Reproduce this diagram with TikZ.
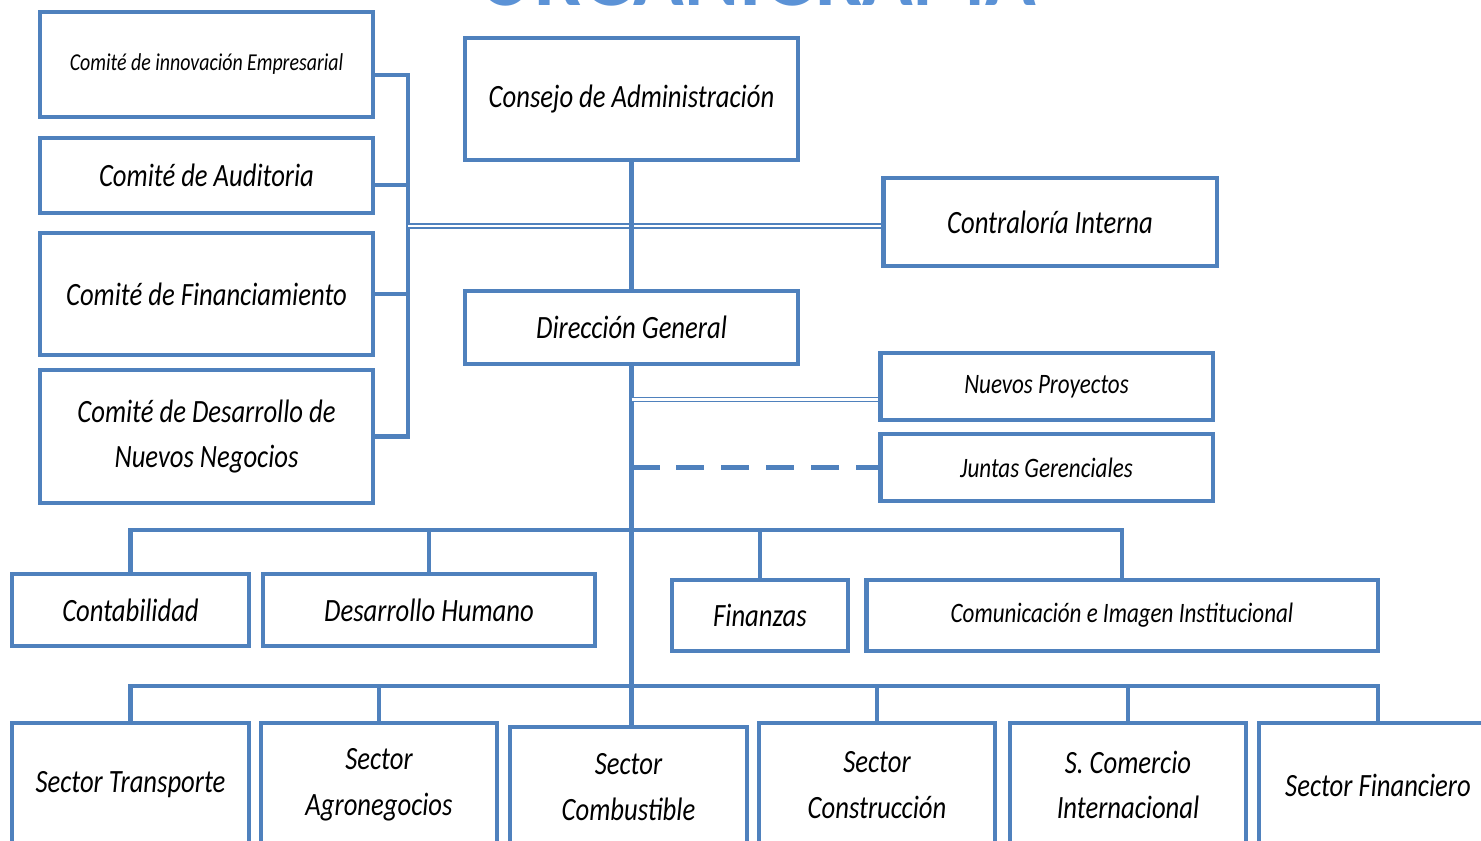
\documentclass[tikz,border=0pt]{standalone}
\usepackage{fontspec}
\setmainfont{Carlito}[FakeStretch=0.82]
\usepackage{tikz}
\definecolor{orgblue}{RGB}{79,129,189}
\definecolor{titleblue}{RGB}{91,146,214}
\tikzset{>=latex}

\begin{document}
\begin{tikzpicture}[x=0.02cm, y=-0.02cm,
  orgbox/.style={draw=orgblue, line width=2.8pt, fill=white, inner sep=0pt, align=center,
    font=\itshape\fontsize{18.5}{26}\selectfont},
  smalltext/.style={font=\itshape\fontsize{13.8}{16}\selectfont},
  midtext/.style={font=\itshape\fontsize{16}{18}\selectfont},
  link/.style={draw=orgblue, line width=2.3pt},
  dlink/.style={draw=orgblue, line width=1pt, double=white, double distance=1.2pt},
  titulo/.style={text=titleblue, font=\bfseries\fontsize{58}{58}\selectfont, inner sep=0pt}]
\useasboundingbox (0,0) rectangle (1481,841);
\clip (0,0) rectangle (1481,841);
\node[titulo, anchor=base] (tit) at (757,6) {ORGANIGRAMA};
% comites
\node[orgbox, smalltext, minimum width=6.66cm, minimum height=2.1cm] (cinn) at (206.5,64.5) {Comité de innovación Empresarial};
\node[orgbox, minimum width=6.66cm, minimum height=1.5cm] (caud) at (206.5,175.5) {Comité de Auditoria};
\node[orgbox, minimum width=6.66cm, minimum height=2.44cm] (cfin) at (206.5,294) {Comité de Financiamiento};
\node[orgbox, minimum width=6.66cm, minimum height=2.66cm] (cdes) at (206.5,436.5) {Comité de Desarrollo de\\Nuevos Negocios};
% direccion
\node[orgbox, minimum width=6.66cm, minimum height=2.44cm] (cons) at (631.5,99) {Consejo de Administración};
\node[orgbox, minimum width=6.68cm, minimum height=1.76cm] (contra) at (1050,222) {Contraloría Interna};
\node[orgbox, minimum width=6.66cm, minimum height=1.46cm] (dir) at (631.5,327.5) {Dirección General};
\node[orgbox, midtext, minimum width=6.66cm, minimum height=1.34cm] (nuev) at (1046.5,386.5) {Nuevos Proyectos};
\node[orgbox, midtext, minimum width=6.66cm, minimum height=1.34cm] (junt) at (1046.5,467.5) {Juntas Gerenciales};
% areas
\node[orgbox, minimum width=4.74cm, minimum height=1.44cm] (conta) at (130.5,610) {Contabilidad};
\node[orgbox, minimum width=6.64cm, minimum height=1.44cm] (desh) at (429,610) {Desarrollo Humano};
\node[orgbox, minimum width=3.52cm, minimum height=1.42cm] (finz) at (760,615.5) {Finanzas};
\node[orgbox, midtext, minimum width=10.24cm, minimum height=1.42cm] (comu) at (1122,615.5) {Comunicación e Imagen Institucional};
% sectores
\node[orgbox, minimum width=4.74cm, minimum height=2.48cm] (stra) at (130.5,785) {Sector Transporte};
\node[orgbox, minimum width=4.72cm, minimum height=2.48cm] (sagr) at (379,785) {Sector\\Agronegocios};
\node[orgbox, minimum width=4.74cm, minimum height=2.4cm] (scom) at (628.5,787) {Sector\\Combustible};
\node[orgbox, minimum width=4.72cm, minimum height=2.48cm] (scon) at (877,785) {Sector\\Construcción};
\node[orgbox, minimum width=4.72cm, minimum height=2.48cm] (sci) at (1128,785) {S. Comercio\\Internacional};
\node[orgbox, minimum width=4.76cm, minimum height=2.48cm] (sfin) at (1378,785) {Sector Financiero};
% conexiones
\coordinate (lb) at ([xshift=0.66cm, yshift=-0.08cm]contra.west -| cfin.east);
\coordinate (bus2) at (632,530);
\coordinate (bus3) at (632,686);
\draw[link] ([yshift=-0.21cm]cinn.east) -| (lb) |- (cdes.east);
\draw[link] ([yshift=-0.19cm]caud.east) -- ([yshift=-0.19cm]caud.east -| lb);
\draw[link] (cfin.east) -- (cfin.east -| lb);
\draw[dlink] (lb) -- ([yshift=-0.08cm]contra.west);
\draw[link] (cons.south) -- (dir.north);
\draw[link] (dir.south) -- (dir.south |- scom.north);
\draw[dlink] ([yshift=-0.26cm]dir.south |- nuev.west) -- ([yshift=-0.26cm]nuev.west);
\draw[link, dash pattern=on 0.56cm off 0.34cm] (dir.south |- junt.west) -- (junt.west);
\draw[link] (conta.north) |- (bus2) -| (comu.north);
\draw[link] (desh.north) -- (desh.north |- bus2);
\draw[link] (finz.north) -- (finz.north |- bus2);
\draw[link] (stra.north) |- (bus3) -| (sfin.north);
\draw[link] (sagr.north) -- (sagr.north |- bus3);
\draw[link] (scon.north) -- (scon.north |- bus3);
\draw[link] (sci.north) -- (sci.north |- bus3);
\end{tikzpicture}
\end{document}
